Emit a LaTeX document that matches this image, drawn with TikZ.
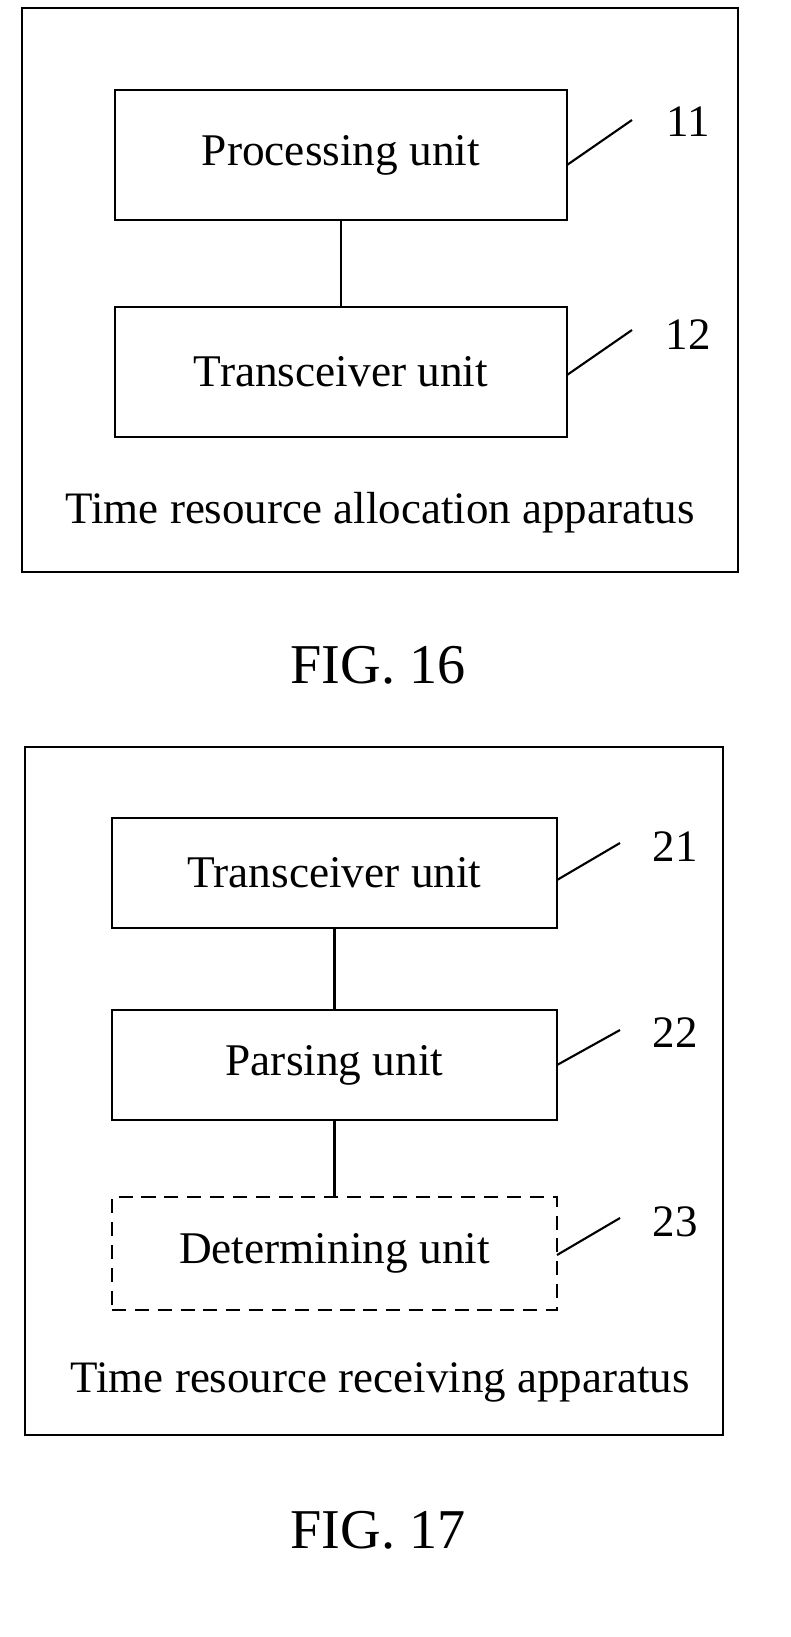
\documentclass[tikz,border=0pt]{standalone}
\usepackage{fontspec}
\setmainfont{Liberation Serif}
\begin{document}
\begin{tikzpicture}[x=0.02cm,y=-0.02cm,
  box/.style={draw,line width=1.2pt},
  unit/.style={draw,line width=1.2pt,minimum width=9.04cm,minimum height=2.6cm,font=\fontsize{25.8}{30}\selectfont},
  lbl/.style={font=\fontsize{25.6}{30}\selectfont},
  lead/.style={line width=1.2pt},
  fig/.style={font=\fontsize{32}{38}\selectfont}]
\useasboundingbox (0,0) rectangle (791,1637);
\draw[box] (22,8) rectangle (738,572);
\node[unit] (p) at (341,155) {Processing unit};
\node[unit] (t) at (341,372) {Transceiver unit};
\draw[lead] (p) -- (t);
\coordinate (a1) at (567,165); \coordinate (b1) at (632,120);
\draw[lead] (a1) -- (b1);
\node[lbl] (n11) at (688,122) {11};
\coordinate (a2) at (567,375); \coordinate (b2) at (632,330);
\draw[lead] (a2) -- (b2);
\node[lbl] (n12) at (688,335) {12};
\node[lbl] (c1) at (380,513) {Time resource allocation apparatus};
\node[fig] (f16) at (378,665) {FIG. 16};

\draw[box] (25,747) rectangle (723,1435);
\tikzset{unit2/.style={unit,minimum width=8.9cm,minimum height=2.2cm}}
\node[unit2] (t2) at (334.5,873) {Transceiver unit};
\node[unit2] (pa) at (334.5,1065) {Parsing unit};
\node[unit2,dash pattern=on 8pt off 5pt,minimum height=2.26cm] (d) at (334.5,1253.5) {Determining unit};
\draw[lead] (t2) -- (pa);
\draw[lead] (pa) -- (d);
\coordinate (a3) at (557,880); \coordinate (b3) at (620,843);
\draw[lead] (a3) -- (b3);
\node[lbl] (n21) at (675,847) {21};
\coordinate (a4) at (557,1065); \coordinate (b4) at (620,1030);
\draw[lead] (a4) -- (b4);
\node[lbl] (n22) at (675,1033) {22};
\coordinate (a5) at (557,1255); \coordinate (b5) at (620,1218);
\draw[lead] (a5) -- (b5);
\node[lbl] (n23) at (675,1222) {23};
\node[lbl] (c2) at (380,1382) {Time resource receiving apparatus};
\node[fig] (f17) at (378,1530) {FIG. 17};
\end{tikzpicture}
\end{document}
